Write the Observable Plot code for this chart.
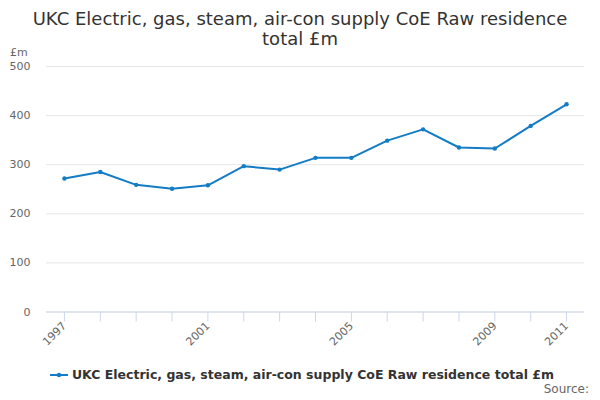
<!DOCTYPE html>
<html>
<head>
<meta charset="utf-8">
<script src="https://cdn.jsdelivr.net/npm/d3@7"></script>
<script src="https://cdn.jsdelivr.net/npm/@observablehq/plot@0.6"></script>
<style>
  body { margin: 0; background: #fff; font-family: "DejaVu Sans", sans-serif; }
  #wrap { position: relative; width: 600px; height: 400px; overflow: hidden; }
  #title { height: 48px; text-align: center; font-size: 18px; color: #333; line-height: 20px; padding-top: 9px; box-sizing: border-box; }
  #unit { position: absolute; left: 10px; top: 46px; font-size: 11px; color: #666; }
  #legend { position: absolute; left: 2px; width: 600px; top: 367px; font-size: 12.5px; font-weight: bold; color: #333; display: flex; justify-content: center; align-items: center; }
  #legend svg { margin-right: 4px; }
  #source { position: absolute; right: 11px; top: 382px; font-size: 12px; color: #666; }
  #chart svg { display: block; }
</style>
</head>
<body>
<div id="wrap">
  <div id="title">UKC Electric, gas, steam, air-con supply CoE Raw residence<br>total £m</div>
  <div id="chart"></div>
  <div id="unit">£m</div>
  <div id="legend"></div>
  <div id="source">Source:</div>
</div>
<script>
const years = [1997, 1998, 1999, 2000, 2001, 2002, 2003, 2004, 2005, 2006, 2007, 2008, 2009, 2010, 2011];
const values = [272, 285, 259, 251, 258, 297, 290, 314, 314, 349, 372, 335, 333, 379, 423];
const labelYears = [1997, 2001, 2005, 2009, 2011];
const yTicks = [0, 100, 200, 300, 400, 500];
const seriesName = "UKC Electric, gas, steam, air-con supply CoE Raw residence total £m";
const color = "#137cc4";

const data = years.map((y, i) => ({year: y, value: values[i]}));

const chart = Plot.plot({
  width: 600,
  height: 300,
  marginTop: 18,
  marginBottom: 36.5,
  marginLeft: 46,
  marginRight: 16,
  style: {fontFamily: "DejaVu Sans, sans-serif", fontSize: "11px", color: "#666", background: "transparent"},
  x: {domain: [1996.5, 2011.5]},
  y: {domain: [0, 500]},
  marks: [
    Plot.gridY(yTicks, {stroke: "#e6e6e6", strokeOpacity: 1}),
    Plot.ruleY([0], {stroke: "#ccd6eb"}),
    Plot.axisY(yTicks, {tickSize: 0, tickPadding: 16, label: null, fill: "#666"}),
    Plot.axisX(years, {tickSize: 10, tickFormat: () => "", stroke: "#ccd6eb", label: null}),
    Plot.axisX(labelYears, {tickSize: 0, tickPadding: 12, tickRotate: -45, tickFormat: d => String(d), label: null, fill: "#666"}),
    Plot.line(data, {x: "year", y: "value", stroke: color, strokeWidth: 2}),
    Plot.dot(data, {x: "year", y: "value", fill: color, r: 2.2})
  ]
});
document.getElementById("chart").appendChild(chart);

const leg = d3.select("#legend");
const sw = leg.append("svg").attr("width", 18).attr("height", 10);
sw.append("line").attr("x1", 0).attr("x2", 18).attr("y1", 5).attr("y2", 5).attr("stroke", color).attr("stroke-width", 2);
sw.append("circle").attr("cx", 9).attr("cy", 5).attr("r", 2.2).attr("fill", color);
leg.append("span").text(seriesName);
</script>
</body>
</html>
